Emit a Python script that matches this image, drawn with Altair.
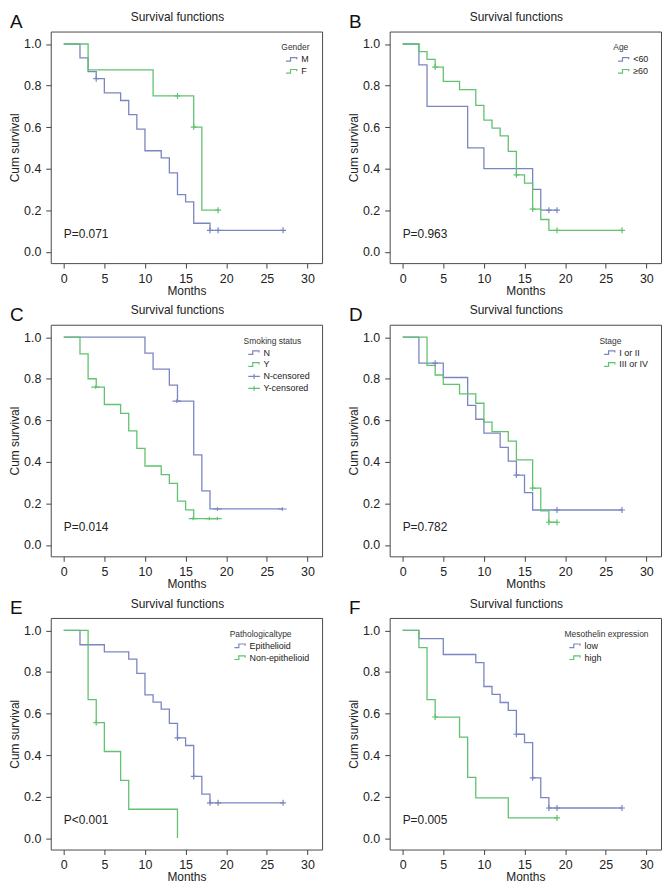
import altair as alt
import pandas as pd

BLUE = "#7b86c0"
GREEN = "#62c270"
FONT = "Liberation Sans"

# ---------------- data ----------------
# Panel A: Gender
a_groups = ["M", "F"]
a_m_t = [0, 2, 3, 4, 5, 7, 8, 9, 10, 12, 13, 14, 15, 16, 18, 27]
a_m_s = [1.0, 0.933, 0.867, 0.833, 0.765, 0.728, 0.66, 0.59, 0.486, 0.452, 0.38, 0.275, 0.24, 0.137, 0.103, 0.103]
a_m_ct = [4, 18, 19, 27]
a_m_cs = [0.833, 0.103, 0.103, 0.103]
a_f_t = [0, 3, 11, 16, 17, 19]
a_f_s = [1.0, 0.875, 0.75, 0.6, 0.2, 0.2]
a_f_ct = [14, 16, 19]
a_f_cs = [0.75, 0.6, 0.2]

# Panel B: Age
b_groups = ["<60", "≥60"]
b_y_t = [0, 2, 3, 8, 10, 16, 17, 19]
b_y_s = [1.0, 0.9, 0.7, 0.5, 0.4, 0.3, 0.2, 0.2]
b_y_ct = [18, 19]
b_y_cs = [0.2, 0.2]
b_o_t = [0, 2, 3, 4, 5, 7, 9, 10, 11, 12, 13, 14, 15, 16, 17, 18, 27]
b_o_s = [1.0, 0.963, 0.926, 0.889, 0.82, 0.78, 0.705, 0.633, 0.595, 0.558, 0.483, 0.37, 0.33, 0.205, 0.155, 0.103, 0.103]
b_o_ct = [4, 14, 16, 19, 27]
b_o_cs = [0.889, 0.37, 0.205, 0.103, 0.103]

# Panel C: Smoking status
c_groups = ["N", "Y", "N-censored", "Y-censored"]
c_n_t = [0, 10, 11, 13, 14, 16, 17, 18, 27]
c_n_s = [1.0, 0.923, 0.846, 0.769, 0.692, 0.433, 0.26, 0.173, 0.173]
c_n_ct = [14, 19, 27]
c_n_cs = [0.692, 0.173, 0.173]
c_y_t = [0, 2, 3, 4, 5, 7, 8, 9, 10, 12, 13, 14, 15, 16, 19]
c_y_s = [1.0, 0.92, 0.8, 0.76, 0.676, 0.633, 0.549, 0.465, 0.38, 0.338, 0.296, 0.211, 0.169, 0.127, 0.127]
c_y_ct = [4, 16, 18, 19]
c_y_cs = [0.76, 0.127, 0.127, 0.127]

# Panel D: Stage
d_groups = ["I or II", "III or IV"]
d_e_t = [0, 2, 5, 8, 9, 10, 12, 13, 14, 15, 16, 27]
d_e_s = [1.0, 0.875, 0.806, 0.672, 0.605, 0.538, 0.47, 0.403, 0.336, 0.252, 0.168, 0.168]
d_e_ct = [4, 14, 19, 27]
d_e_cs = [0.875, 0.336, 0.168, 0.168]
d_l_t = [0, 3, 4, 5, 7, 9, 10, 11, 13, 14, 16, 17, 18, 19]
d_l_s = [1.0, 0.864, 0.818, 0.773, 0.727, 0.682, 0.591, 0.545, 0.5, 0.409, 0.273, 0.164, 0.109, 0.109]
d_l_ct = [16, 18, 19]
d_l_cs = [0.273, 0.109, 0.109]

# Panel E: Pathological type
e_groups = ["Epithelioid", "Non-epithelioid"]
e_e_t = [0, 2, 5, 8, 9, 10, 11, 12, 13, 14, 15, 16, 17, 18, 27]
e_e_s = [1.0, 0.931, 0.897, 0.862, 0.793, 0.69, 0.655, 0.621, 0.552, 0.483, 0.446, 0.297, 0.212, 0.17, 0.17]
e_e_ct = [14, 16, 18, 19, 27]
e_e_cs = [0.483, 0.297, 0.17, 0.17, 0.17]
e_n_t = [0, 3, 4, 5, 7, 8, 14]
e_n_s = [1.0, 0.667, 0.556, 0.417, 0.278, 0.139, 0.0]
e_n_ct = [4]
e_n_cs = [0.556]

# Panel F: Mesothelin expression
f_groups = ["low", "high"]
f_l_t = [0, 2, 5, 9, 10, 11, 12, 13, 14, 15, 16, 17, 18, 27]
f_l_s = [1.0, 0.96, 0.884, 0.845, 0.73, 0.692, 0.653, 0.615, 0.5, 0.46, 0.29, 0.195, 0.145, 0.145]
f_l_ct = [14, 16, 18, 19, 27]
f_l_cs = [0.5, 0.29, 0.145, 0.145, 0.145]
f_h_t = [0, 2, 3, 4, 7, 8, 9, 13, 19]
f_h_s = [1.0, 0.917, 0.667, 0.583, 0.486, 0.292, 0.194, 0.097, 0.097]
f_h_ct = [4, 19]
f_h_cs = [0.583, 0.097]

x_ticks = [0, 5, 10, 15, 20, 25, 30]
y_ticks = [0.0, 0.2, 0.4, 0.6, 0.8, 1.0]
panel_title = "Survival functions"

STEP = "M-1.5,0.4L-0.5,0.4L-0.5,-0.4L0.9,-0.4L0.9,0"
CROSSLINE = "M-1.5,0L1.1,0M-0.2,-0.55L-0.2,0.55"
PLUS = "M-1,0L1,0M0,-1L0,1"

W, H = 273, 233
xs = alt.Scale(domain=[-1.6, 31.8], nice=False, zero=False)
ys = alt.Scale(domain=[-0.055, 1.06], nice=False, zero=False)
X = alt.X("t:Q", scale=xs, axis=alt.Axis(values=x_ticks, title="Months", format="d"))
Y = alt.Y("s:Q", scale=ys, axis=alt.Axis(values=y_ticks, title="Cum survival", format=".1f"))


def panel(letter, title, groups, curves, censors, pval, special=False):
    rows = []
    for g, (tt, ss) in zip(groups, curves):
        rows += [{"t": t, "s": s, "g": g} for t, s in zip(tt, ss)]
    crow = []
    for g, (tt, ss) in zip(groups if not special else groups[2:], censors):
        crow += [{"t": t, "s": s, "g": g} for t, s in zip(tt, ss)]
    rng = [BLUE, GREEN] * (len(groups) // 2)
    cscale = alt.Scale(domain=groups, range=rng)
    if special:
        line = alt.Chart(pd.DataFrame(rows)).mark_line(
            interpolate="step-after", strokeWidth=1.3
        ).encode(x=X, y=Y, color=alt.Color("g:N", scale=cscale, title=title,
                                           legend=alt.Legend(title=title)))
        cens = alt.Chart(pd.DataFrame(crow)).mark_point(
            filled=False, size=44, strokeWidth=1.2, opacity=1
        ).encode(
            x=X, y=Y,
            color=alt.Color("g:N", scale=cscale, title=title, legend=alt.Legend(title=title)),
            shape=alt.Shape("g:N", title=title,
                            scale=alt.Scale(domain=groups, range=[STEP, STEP, CROSSLINE, CROSSLINE]),
                            legend=alt.Legend(title=title)),
        )
    else:
        line = alt.Chart(pd.DataFrame(rows)).mark_line(
            interpolate="step-after", strokeWidth=1.3
        ).encode(x=X, y=Y, color=alt.Color("g:N", scale=cscale,
                                           legend=alt.Legend(title=title, symbolType=STEP)))
        cens = alt.Chart(pd.DataFrame(crow)).mark_point(
            shape=PLUS, filled=False, size=36, strokeWidth=1.2, opacity=1
        ).encode(x=X, y=Y, color=alt.Color("g:N", scale=cscale, legend=None))
    ptxt = alt.Chart(pd.DataFrame({"t": [0.0], "s": [0.087], "p": [pval]})).mark_text(
        align="left", baseline="middle", fontSize=12, font=FONT, color="#222"
    ).encode(x=X, y=Y, text="p:N")
    let = alt.Chart(pd.DataFrame({"l": [letter]})).mark_text(
        align="left", baseline="top", fontSize=19, font=FONT, color="#111",
        x=-41, y=-19
    ).encode(text="l:N")
    ttl = alt.Chart(pd.DataFrame({"l": [panel_title]})).mark_text(
        align="center", baseline="alphabetic", fontSize=12, font=FONT, color="#222",
        x=W / 2 - 9, y=-10.5
    ).encode(text="l:N")
    return alt.layer(line, cens, ptxt, let, ttl).properties(width=W, height=H)


pA = panel("A", "Gender", a_groups, [(a_m_t, a_m_s), (a_f_t, a_f_s)],
           [(a_m_ct, a_m_cs), (a_f_ct, a_f_cs)], "P=0.071")
pB = panel("B", "Age", b_groups, [(b_y_t, b_y_s), (b_o_t, b_o_s)],
           [(b_y_ct, b_y_cs), (b_o_ct, b_o_cs)], "P=0.963")
pC = panel("C", "Smoking status", c_groups, [(c_n_t, c_n_s), (c_y_t, c_y_s)],
           [(c_n_ct, c_n_cs), (c_y_ct, c_y_cs)], "P=0.014", special=True)
pD = panel("D", "Stage", d_groups, [(d_e_t, d_e_s), (d_l_t, d_l_s)],
           [(d_e_ct, d_e_cs), (d_l_ct, d_l_cs)], "P=0.782")
pE = panel("E", "Pathologicaltype", e_groups, [(e_e_t, e_e_s), (e_n_t, e_n_s)],
           [(e_e_ct, e_e_cs), (e_n_ct, e_n_cs)], "P<0.001")
pF = panel("F", "Mesothelin expression", f_groups, [(f_l_t, f_l_s), (f_h_t, f_h_s)],
           [(f_l_ct, f_l_cs), (f_h_ct, f_h_cs)], "P=0.005")

chart = alt.vconcat(
    alt.hconcat(pA, pB, spacing=24).resolve_scale(color="independent", shape="independent"),
    alt.hconcat(pC, pD, spacing=24).resolve_scale(color="independent", shape="independent"),
    alt.hconcat(pE, pF, spacing=24).resolve_scale(color="independent", shape="independent"),
    spacing=7,
).resolve_scale(color="independent", shape="independent").properties(
    padding=0, background="white"
).configure_view(
    fill="#efefef", stroke="#4a4a4a", strokeWidth=1
).configure_axis(
    domain=False, grid=False, ticks=True, tickSize=5, tickColor="#444",
    labelFont=FONT, labelFontSize=12.5, labelColor="#222", labelPadding=5,
    titleFont=FONT, titleFontSize=12, titleFontWeight="normal", titleColor="#222",
).configure_axisX(titlePadding=1, labelPadding=4).configure_axisY(titlePadding=2).configure_legend(
    orient="top-right", offset=6, fillColor="white", padding=6, strokeColor="white",
    titleFont=FONT, titleFontSize=8.5, titleFontWeight="normal", titleColor="#333",
    labelFont=FONT, labelFontSize=9, labelColor="#222", labelOffset=3,
    symbolSize=81, symbolStrokeWidth=1.2, symbolFillColor="transparent",
    rowPadding=1, titlePadding=2, symbolOffset=6,
)

chart.save("out.html", embed_options={"renderer": "svg", "actions": False})
